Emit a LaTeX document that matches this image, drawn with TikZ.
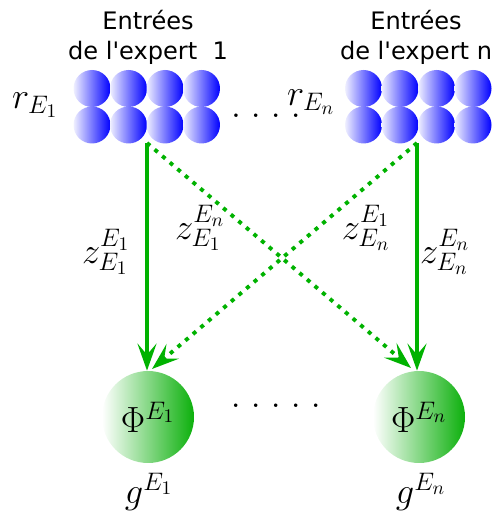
\documentclass[tikz,border=0pt]{standalone}
\usepackage{fontspec}
\usepackage{tikz}
\usetikzlibrary{arrows.meta}
\newfontfamily\labelfont{DejaVu Sans}
\definecolor{ballblue}{HTML}{0000FF}
\definecolor{linkgreen}{HTML}{00B200}
\definecolor{unitgreen}{HTML}{0CB00C}

\begin{document}
\begin{tikzpicture}[x=0.02cm, y=-0.02cm,
        ball/.style={circle, minimum size=0.74cm, inner sep=0pt,
                     left color=ballblue!6, right color=ballblue},
        unit/.style={circle, minimum size=1.84cm, inner sep=0pt,
                     left color=white, right color=unitgreen,
                     font=\fontsize{22}{26}\selectfont},
        hdr/.style={font=\labelfont\fontsize{13.7}{17}\selectfont, align=center},
        mth/.style={font=\fontsize{22}{26}\selectfont, inner sep=0pt},
        link/.style={draw=linkgreen, line width=2.2pt,
                     -{Stealth[length=0.54cm, width=0.38cm, inset=0.22cm]}},
        cross/.style={link, dash pattern=on 2.3pt off 3.4pt}
    ]
    \useasboundingbox (0,0) rectangle (496,516);

    % ---- Inputs of each expert ----
    \foreach \i in {0,...,3}
        \foreach \j in {0,1} {
            \node[ball] (a\i\j) at (92+36.5*\i, 88.5+36.5*\j) {};
            \node[ball] (b\i\j) at (363.5+36.5*\i, 88.5+36.5*\j) {};
        }
    \node[hdr] (h1) at (148, 37) {Entrées\\de l'expert~~1};
    \node[hdr] (hn) at (416, 37) {Entrées\\de l'expert n};
    \node[mth] (r1) at (35, 105) {$r_{E_1}$};
    \node[mth] (topdots) at (266, 116) {$.\;.\;.\;.$};
    \node[mth] (rn) at (311, 102) {$r_{E_n}$};

    % ---- Experts ----
    \node[unit] (phi1) at (148, 417) {$\Phi^{E_1}$};
    \node[unit] (phin) at (419, 417) {$\Phi^{E_n}$};
    \node[mth] (lowdots) at (276, 406) {$.\;.\;.\;.\;.$};
    \node[mth] (g1) at (149, 492) {$g^{E_1}$};
    \node[mth] (gn) at (421, 492) {$g^{E_n}$};

    % ---- Connections ----
    \coordinate (s1) at (147, 143);
    \coordinate (sn) at (417, 143);
    \coordinate (t1) at (152, 369);
    \coordinate (tn) at (411, 368);
    \draw[cross] (s1) -- (tn);
    \draw[cross] (sn) -- (t1);
    \draw[link] (s1) -- (s1 |- phi1.north);
    \draw[link] (sn) -- (sn |- phin.north);

    \node[mth] (z11) at (106, 252) {$z^{E_1}_{E_1}$};
    \node[mth] (zn1) at (200, 228) {$z^{E_n}_{E_1}$};
    \node[mth] (z1n) at (366, 228) {$z^{E_1}_{E_n}$};
    \node[mth] (znn) at (445, 252) {$z^{E_n}_{E_n}$};
\end{tikzpicture}
\end{document}
